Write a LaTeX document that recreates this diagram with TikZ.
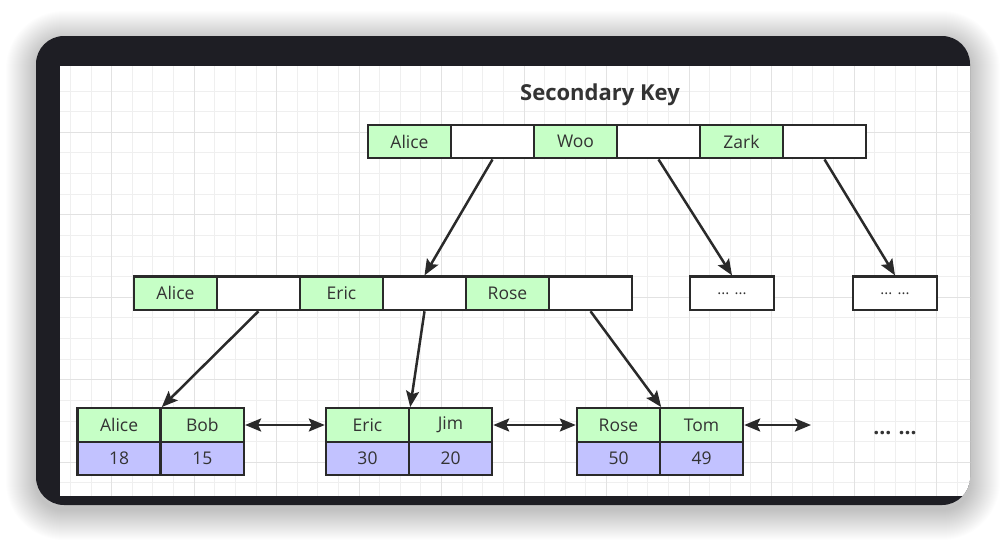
\documentclass[tikz,border=0pt]{standalone}
\usepackage{fontspec}
\setmainfont{Open Sans}
\usetikzlibrary{arrows.meta}
\definecolor{framec}{HTML}{1E1E24}
\definecolor{keyg}{HTML}{C6FFC6}
\definecolor{valp}{HTML}{C2C2FF}
\definecolor{edgec}{HTML}{2A2A2A}
\definecolor{txt}{HTML}{333333}
\definecolor{gridminor}{HTML}{EFEFEF}
\definecolor{gridmajor}{HTML}{E2E2E2}
\begin{document}
\begin{tikzpicture}[x=1pt,y=-1pt,
  cell/.style={draw=edgec, line width=2.4pt, minimum width=83pt, minimum height=33.5pt, inner sep=0pt, font=\fontsize{17.5}{20}\selectfont, text=txt},
  keycell/.style={cell, fill=keyg},
  ptrcell/.style={cell, fill=white},
  valcell/.style={cell, fill=valp},
  dotbox/.style={cell, fill=white, minimum width=84pt, font=\fontsize{15}{18}\selectfont},
  link/.style={draw=edgec, line width=2.5pt, -{Stealth[length=16pt,width=13pt,inset=3pt]}},
  dlink/.style={draw=edgec, line width=2.5pt, {Stealth[length=16pt,width=13pt,inset=3pt]}-{Stealth[length=16pt,width=13pt,inset=3pt]}},
]
\useasboundingbox (0,0) rectangle (1006,542);
% shadow
\foreach \r in {1,...,30}{
  \pgfmathsetmacro{\rr}{28+\r}
  \fill[black, opacity=0.0065, rounded corners=\rr pt] ({36-\r},{41-\r}) rectangle ({970+\r},{510+\r});
}
% frame
\fill[framec, rounded corners=28pt] (36,36) rectangle (970,505);
\begin{scope}
  \clip[rounded corners=28pt] (36,36) rectangle (970,505);
  \fill[white] (60,66) rectangle (980,496);
  \clip (60,66) rectangle (980,496);
  \foreach \i in {0,...,43}{
    \draw[gridminor, line width=0.9pt] ({70.4+\i*20.62},66) -- ({70.4+\i*20.62},496);
  }
  \foreach \i in {1,...,20}{
    \draw[gridminor, line width=0.9pt] (60,{70.4+\i*20.62}) -- (980,{70.4+\i*20.62});
  }
  \foreach \k in {0,...,10}{
    \draw[gridmajor, line width=0.9pt] ({111.64+\k*82.48},66) -- ({111.64+\k*82.48},496);
  }
  \foreach \k in {0,...,4}{
    \draw[gridmajor, line width=0.9pt] (60,{132.26+\k*82.48}) -- (980,{132.26+\k*82.48});
  }
\end{scope}
% title
\node[font=\bfseries\fontsize{22}{26}\selectfont, text=txt] (title) at (600,95) {Secondary Key};
% top row
\node[keycell] (t1) at (409.5,141.5) {Alice};
\node[ptrcell] (t2) at (492.5,141.5) {};
\node[keycell] (t3) at (575.5,141.5) {Woo};
\node[ptrcell] (t4) at (658.5,141.5) {};
\node[keycell] (t5) at (741.5,141.5) {Zark};
\node[ptrcell] (t6) at (824.5,141.5) {};
% second row
\node[keycell] (s1) at (175.5,293.3) {Alice};
\node[ptrcell] (s2) at (258.5,293.3) {};
\node[keycell] (s3) at (341.5,293.3) {Eric};
\node[ptrcell] (s4) at (424.5,293.3) {};
\node[keycell] (s5) at (507.5,293.3) {Rose};
\node[ptrcell] (s6) at (590.5,293.3) {};
\node[dotbox] (d1) at (732,293.3) {... ...};
\node[dotbox] (d2) at (895,293.3) {... ...};
% leaves
\node[keycell] (a1) at (119.1,425) {Alice};
\node[keycell] (b1) at (202.4,425) {Bob};
\node[valcell] (a1v) at (119.1,458.5) {18};
\node[valcell] (b1v) at (202.4,458.5) {15};
\node[keycell] (a2) at (367.5,425) {Eric};
\node[keycell] (b2) at (450.5,425) {Jim};
\node[valcell] (a2v) at (367.5,458.5) {30};
\node[valcell] (b2v) at (450.5,458.5) {20};
\node[keycell] (a3) at (618.5,425) {Rose};
\node[keycell] (b3) at (701.5,425) {Tom};
\node[valcell] (a3v) at (618.5,458.5) {50};
\node[valcell] (b3v) at (701.5,458.5) {49};
\node[font=\bfseries\fontsize{21}{24}\selectfont, text=txt] (more) at (895,433) {... ...};
\coordinate (endlink) at (811,425);
% tree links
\draw[link] (t2.south) -- (s4.north);
\draw[link] (t4.south) -- (d1.north);
\draw[link] (t6.south) -- (d2.north);
\draw[link] (s2.south) -- (a1.north east);
\draw[link] (s4.south) -- (a2.north east);
\draw[link] (s6.south) -- (a3.north east);
% leaf links
\draw[dlink] (b1.east) -- (a2.west);
\draw[dlink] (b2.east) -- (a3.west);
\draw[dlink] (b3.east) -- (endlink);
\end{tikzpicture}
\end{document}
